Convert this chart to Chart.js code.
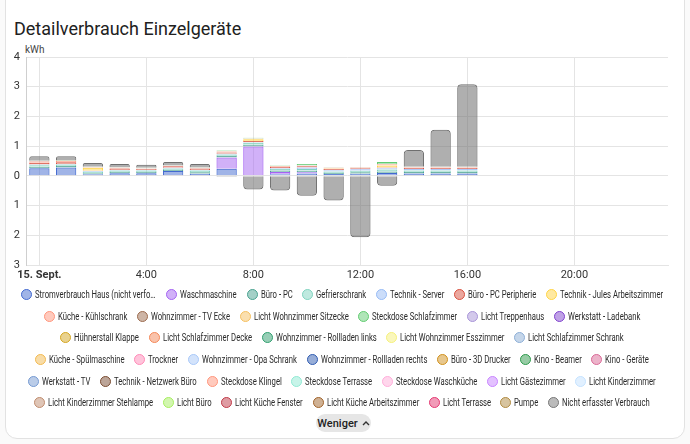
<!DOCTYPE html>
<html>
<head>
<meta charset="utf-8">
<script src="https://cdn.jsdelivr.net/npm/chart.js@4.4.1/dist/chart.umd.min.js"></script>
<style>
  html, body { margin: 0; padding: 0; }
  body { width: 690px; height: 444px; background: #fafafa; font-family: Roboto, sans-serif; position: relative; overflow: hidden; }
  .card { position: absolute; left: 5px; top: -12px; width: 678px; height: 449px; background: #fff; border: 1px solid #e2e2e2; border-radius: 12px; }
  h1 { position: absolute; left: 14px; top: 17px; margin: 0; font-size: 18px; font-weight: 400; color: #212121; line-height: 24px; }
  .unit { position: absolute; left: 25px; top: 44px; font-size: 10px; color: #444; }
  #wrap { position: absolute; left: 0; top: 40px; width: 690px; height: 245px; }
  #legend { position: absolute; left: 11px; top: 284px; width: 662px; display: flex; flex-wrap: wrap; justify-content: center; }
  .item { display: flex; align-items: center; height: 21.6px; margin: 0 4.8px; font-size: 10px; color: #2a2a2a; white-space: nowrap; }
  .dot { width: 9px; height: 9px; border-radius: 50%; border: 1px solid; margin-right: 3px; flex: none; }
  .txt { display: inline-block; transform-origin: 0 50%; }
  .txt.cut { max-width: 158px; overflow: hidden; text-overflow: ellipsis; }
  .btn { position: absolute; left: 316px; top: 414px; width: 55px; height: 18px; border-radius: 9px; background: #e6e6e6; font-size: 11px; font-weight: 500; color: #222; display: flex; align-items: center; justify-content: center; gap: 4px; }
</style>
</head>
<body>
<div class="card"></div>
<h1>Detailverbrauch Einzelgeräte</h1>
<div class="unit">kWh</div>
<div id="wrap"><canvas id="chart"></canvas></div>
<div id="legend"></div>
<div class="btn">Weniger <svg width="8" height="6" viewBox="0 0 8 6"><path d="M1 5 L4 2 L7 5" fill="none" stroke="#333" stroke-width="1.4"/></svg></div>
<script>
// hours 0:00 .. 23:00, bars only up to 16:00
const hourLabels = ["15. Sept.", "1:00", "2:00", "3:00", "4:00", "5:00", "6:00", "7:00", "8:00", "9:00", "10:00", "11:00",
  "12:00", "13:00", "14:00", "15:00", "16:00", "17:00", "18:00", "19:00", "20:00", "21:00", "22:00", "23:00"];
const yTicks = [-3, -2, -1, 0, 1, 2, 3, 4];

const deviceNames = [
  "Stromverbrauch Haus (nicht verfolgt)", "Waschmaschine", "Büro - PC", "Gefrierschrank", "Technik - Server",
  "Büro - PC Peripherie", "Technik - Jules Arbeitszimmer", "Küche - Kühlschrank", "Wohnzimmer - TV Ecke",
  "Licht Wohnzimmer Sitzecke", "Steckdose Schlafzimmer", "Licht Treppenhaus", "Werkstatt - Ladebank",
  "Hühnerstall Klappe", "Licht Schlafzimmer Decke", "Wohnzimmer - Rollladen links", "Licht Wohnzimmer Esszimmer",
  "Licht Schlafzimmer Schrank", "Küche - Spülmaschine", "Trockner", "Wohnzimmer - Opa Schrank",
  "Wohnzimmer - Rollladen rechts", "Büro - 3D Drucker", "Kino - Beamer", "Kino - Geräte", "Werkstatt - TV",
  "Technik - Netzwerk Büro", "Steckdose Klingel", "Steckdose Terrasse", "Steckdose Waschküche", "Licht Gästezimmer",
  "Licht Kinderzimmer", "Licht Kinderzimmer Stehlampe", "Licht Büro", "Licht Küche Fenster",
  "Licht Küche Arbeitszimmer", "Licht Terrasse", "Pumpe", "Nicht erfasster Verbrauch"
];
const deviceColors = [
  "#4269d0", "#a463f2", "#49a28f", "#7fd3bf", "#97bbf5",
  "#d84f3e", "#ffd444", "#ff957c", "#9c6b4e",
  "#f5c060", "#62cc71", "#a894d8", "#8043ce",
  "#d4a520", "#f48758", "#2f9e6e", "#f5f07a",
  "#8caed6", "#f2b94f", "#ff8ab7", "#a8c8f8",
  "#2f5bb0", "#d0901c", "#2f9a4c", "#d96895", "#7599d1",
  "#7a4c31", "#ff957c", "#8fe9d3", "#ffadda", "#c884ff",
  "#c4e2ff", "#bf8b6d", "#a6ee5f", "#bf3947",
  "#a0632a", "#e43872", "#b08a40", "#777777"
];

// kWh per hour (0:00 .. 16:00)
const hausKwh        = [0.26, 0.28, 0.05, 0.09, 0.09, 0.16, 0.07, 0.24, 0.00, 0.05, 0.08, 0.06, 0.07, 0.10, 0.08, 0.08, 0.08];
const waschKwh       = [0, 0, 0, 0, 0, 0, 0, 0.38, 0.99, 0.08, 0.04, 0, 0, 0, 0, 0, 0];
const bueroPcKwh     = [0.05, 0.05, 0.04, 0.04, 0.04, 0.04, 0.05, 0.05, 0.06, 0.05, 0.05, 0.04, 0.05, 0.05, 0.05, 0.05, 0.05];
const gefrierKwh     = [0.05, 0.05, 0.05, 0.05, 0.05, 0.05, 0.06, 0.05, 0.06, 0.05, 0.06, 0.05, 0.05, 0.06, 0.05, 0.05, 0.05];
const serverKwh      = [0.02, 0.02, 0.02, 0.02, 0.02, 0.02, 0.02, 0.02, 0.02, 0.03, 0.05, 0.04, 0.05, 0.05, 0.05, 0.05, 0.05];
const peripherieKwh  = [0.06, 0.06, 0.01, 0.05, 0.04, 0.05, 0.05, 0.05, 0.04, 0.04, 0.04, 0.04, 0.04, 0.02, 0.04, 0.04, 0.04];
const julesKwh       = [0, 0, 0.10, 0, 0, 0, 0, 0, 0.06, 0, 0, 0.02, 0, 0.07, 0, 0, 0];
const kuehlKwh       = [0.04, 0.04, 0.02, 0.02, 0.01, 0.01, 0.01, 0.03, 0.02, 0.02, 0.02, 0.02, 0.02, 0.04, 0.02, 0.02, 0.02];
const tvKwh          = [0.02, 0.02, 0.01, 0.01, 0.01, 0.01, 0.01, 0.01, 0.01, 0.01, 0.01, 0.01, 0.01, 0.01, 0.01, 0.01, 0.01];
const schlafKwh      = [0.01, 0.01, 0.01, 0.01, 0.01, 0.01, 0.01, 0.02, 0.02, 0.02, 0.05, 0.01, 0.01, 0.07, 0.01, 0.01, 0.01];
const untrackedKwh   = [0.15, 0.13, 0.12, 0.11, 0.10, 0.12, 0.12, -0.03, -0.46, -0.49, -0.67, -0.83, -2.07, -0.33, 0.56, 1.24, 2.77];

const seriesByName = {
  "Stromverbrauch Haus (nicht verfolgt)": hausKwh,
  "Waschmaschine": waschKwh,
  "Büro - PC": bueroPcKwh,
  "Gefrierschrank": gefrierKwh,
  "Technik - Server": serverKwh,
  "Büro - PC Peripherie": peripherieKwh,
  "Technik - Jules Arbeitszimmer": julesKwh,
  "Küche - Kühlschrank": kuehlKwh,
  "Wohnzimmer - TV Ecke": tvKwh,
  "Steckdose Schlafzimmer": schlafKwh,
  "Nicht erfasster Verbrauch": untrackedKwh
};

function alpha(hex, a) {
  const n = parseInt(hex.slice(1), 16);
  return `rgba(${n >> 16}, ${(n >> 8) & 255}, ${n & 255}, ${a})`;
}

const datasets = deviceNames.map((name, i) => {
  const grey = name === "Nicht erfasster Verbrauch";
  return {
    label: name,
    data: seriesByName[name] || [],
    backgroundColor: grey ? "rgba(110,110,110,0.55)" : alpha(deviceColors[i], 0.5),
    borderColor: grey ? "#6f6f6f" : deviceColors[i],
    borderWidth: 1,
    borderRadius: grey ? 4 : 0,
    stack: "a"
  };
});

// html legend, text squeezed to get the narrow look
const squeeze = 0.77;
const legend = document.getElementById("legend");
deviceNames.forEach((name, i) => {
  const el = document.createElement("div");
  el.className = "item";
  const c = deviceColors[i];
  el.innerHTML = `<div class="dot" style="background:${alpha(c, 0.5)};border-color:${c}"></div><span class="txt${i === 0 ? " cut" : ""}">${name}</span>`;
  legend.appendChild(el);
  const t = el.querySelector(".txt");
  const w = t.offsetWidth;
  t.style.transform = `scaleX(${squeeze})`;
  t.style.marginRight = -(w * (1 - squeeze)) + "px";
});

const gridColor = "#e4e4e4";
new Chart(document.getElementById("chart"), {
  type: "bar",
  data: { labels: hourLabels, datasets },
  options: {
    responsive: true,
    maintainAspectRatio: false,
    animation: false,
    layout: { padding: { top: 17, right: 22, left: 0, bottom: 0 } },
    plugins: { legend: { display: false }, tooltip: { enabled: false } },
    datasets: { bar: { categoryPercentage: 1, barPercentage: 0.76 } },
    scales: {
      x: {
        stacked: true,
        grid: {
          offset: false,
          color: (ctx) => (ctx.index % 4 === 0 ? gridColor : "transparent"),
          drawTicks: false
        },
        border: { color: gridColor },
        ticks: {
          autoSkip: false,
          maxRotation: 0,
          padding: 4,
          color: "#333",
          font: (ctx) => ({ family: "Roboto", size: 11, weight: ctx.index === 0 ? "bold" : "normal" }),
          callback: (v, i) => (i % 4 === 0 ? hourLabels[i] : "")
        },
        afterFit: (s) => { s.height = 20; }
      },
      y: {
        stacked: true,
        min: yTicks[0],
        max: yTicks[yTicks.length - 1],
        afterBuildTicks: (s) => { s.ticks = yTicks.map((v) => ({ value: v })); },
        grid: { color: gridColor, drawTicks: false },
        border: { color: "#cfcfcf" },
        ticks: {
          padding: 6,
          color: "#333",
          font: { family: "Roboto", size: 11 },
          callback: (v) => Math.abs(v)
        },
        afterFit: (s) => { s.width = 26; }
      }
    }
  }
});
</script>
</body>
</html>
